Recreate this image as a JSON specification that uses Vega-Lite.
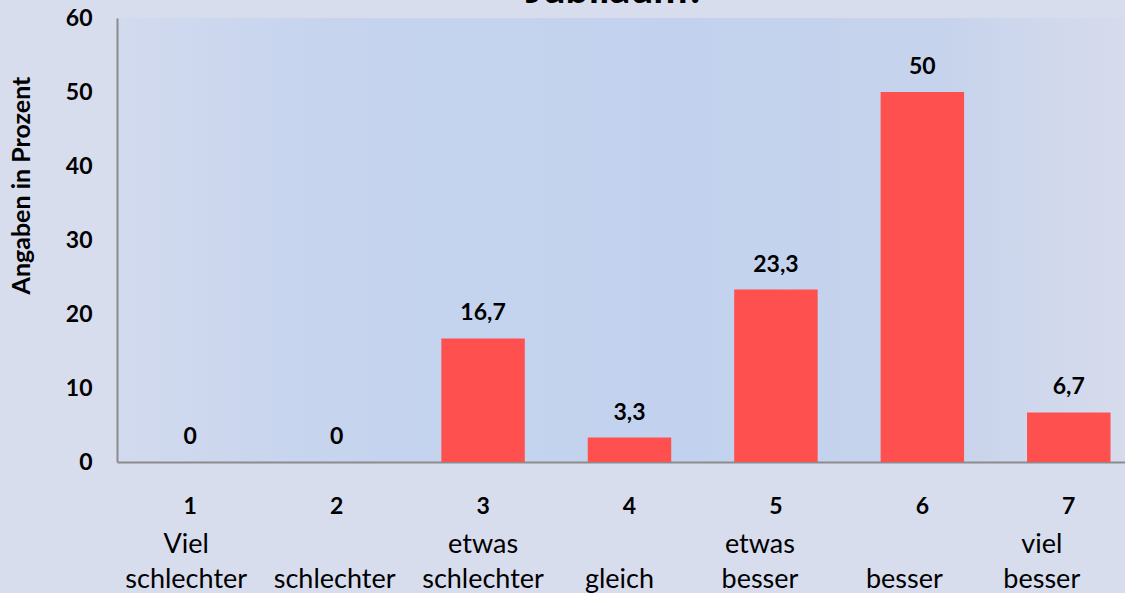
{
  "$schema": "https://vega.github.io/schema/vega-lite/v6.json",
  "autosize": {"type": "none"},
  "padding": {"left": 117, "top": 18, "right": 0, "bottom": 131},
  "width": 1025,
  "height": 444,
  "background": "#d8ddee",
  "title": {
    "text": "Jubiläum?",
    "font": "Lato",
    "fontSize": 41,
    "fontWeight": "bold",
    "color": "#000000",
    "anchor": "middle",
    "frame": "group",
    "dx": -14,
    "dy": 37,
    "baseline": "alphabetic",
    "offset": 0
  },
  "config": {
    "font": "Lato",
    "view": {
      "stroke": null,
      "fill": {
        "gradient": "linear",
        "x1": 0, "y1": 0, "x2": 1, "y2": 0,
        "stops": [
          {"offset": 0, "color": "#d2daee"},
          {"offset": 0.2, "color": "#c6d4ee"},
          {"offset": 0.55, "color": "#c2d2ee"},
          {"offset": 0.8, "color": "#c6d3ec"},
          {"offset": 1, "color": "#d8dcec"}
        ]
      }
    }
  },
  "data": {
    "values": [
      {"kat": "1|Viel|schlechter", "wert": 0, "txt": "0"},
      {"kat": "2||schlechter", "wert": 0, "txt": "0"},
      {"kat": "3|etwas|schlechter", "wert": 16.7, "txt": "16,7"},
      {"kat": "4||gleich", "wert": 3.3, "txt": "3,3"},
      {"kat": "5|etwas|besser", "wert": 23.3, "txt": "23,3"},
      {"kat": "6||besser", "wert": 50, "txt": "50"},
      {"kat": "7|viel|besser", "wert": 6.7, "txt": "6,7"}
    ]
  },
  "resolve": {"axis": {"x": "independent"}},
  "layer": [
    {
      "mark": {"type": "bar", "color": "#ff5050"},
      "encoding": {
        "x": {
          "field": "kat", "type": "nominal", "sort": null,
          "scale": {"paddingInner": 0.43, "paddingOuter": 0.215},
          "axis": {
            "orient": "bottom",
            "title": null,
            "ticks": false,
            "domainColor": "#8c8c8c",
            "domainWidth": 2,
            "labelAngle": 0,
            "labelExpr": "split(datum.label, '|')[0]",
            "labelFont": "Lato",
            "labelFontSize": 23,
            "labelFontWeight": "bold",
            "labelColor": "#000000",
            "labelBaseline": "alphabetic",
            "labelPadding": 51
          }
        },
        "y": {
          "field": "wert", "type": "quantitative",
          "scale": {"domain": [0, 60]},
          "axis": {
            "values": [0, 10, 20, 30, 40, 50, 60],
            "grid": false,
            "ticks": false,
            "domainColor": "#8c8c8c",
            "domainWidth": 2,
            "labelFont": "Lato",
            "labelFontSize": 23,
            "labelFontWeight": "bold",
            "labelColor": "#000000",
            "labelPadding": 25,
            "title": "Angaben in Prozent",
            "titleFont": "Lato",
            "titleFontSize": 25,
            "titleFontWeight": "bold",
            "titleColor": "#000000",
            "titleAngle": -90,
            "titleAlign": "center",
            "titleBaseline": "middle",
            "titleX": -96,
            "titleY": 167
          }
        }
      }
    },
    {
      "mark": {"type": "text", "font": "Lato", "fontSize": 23, "fontWeight": "bold", "color": "#000000", "baseline": "alphabetic", "dy": -18},
      "encoding": {
        "x": {
          "field": "kat", "type": "nominal", "sort": null,
          "axis": {
            "orient": "bottom",
            "title": null,
            "ticks": false,
            "domain": false,
            "labelAngle": 0,
            "labelExpr": "[split(datum.label, '|')[1], split(datum.label, '|')[2]]",
            "labelFont": "Lato",
            "labelFontSize": 27,
            "labelFontWeight": "normal",
            "labelColor": "#000000",
            "labelBaseline": "alphabetic",
            "labelLineHeight": 35,
            "labelPadding": 90,
            "labelOffset": {
              "condition": [
                {"test": "datum.value == '1|Viel|schlechter'", "value": -4},
                {"test": "datum.value == '2||schlechter'", "value": -2},
                {"test": "datum.value == '4||gleich'", "value": -10},
                {"test": "datum.value == '5|etwas|besser'", "value": -16},
                {"test": "datum.value == '6||besser'", "value": -18},
                {"test": "datum.value == '7|viel|besser'", "value": -27}
              ],
              "value": 0
            }
          }
        },
        "y": {"field": "wert", "type": "quantitative"},
        "text": {"field": "txt"}
      }
    }
  ]
}
